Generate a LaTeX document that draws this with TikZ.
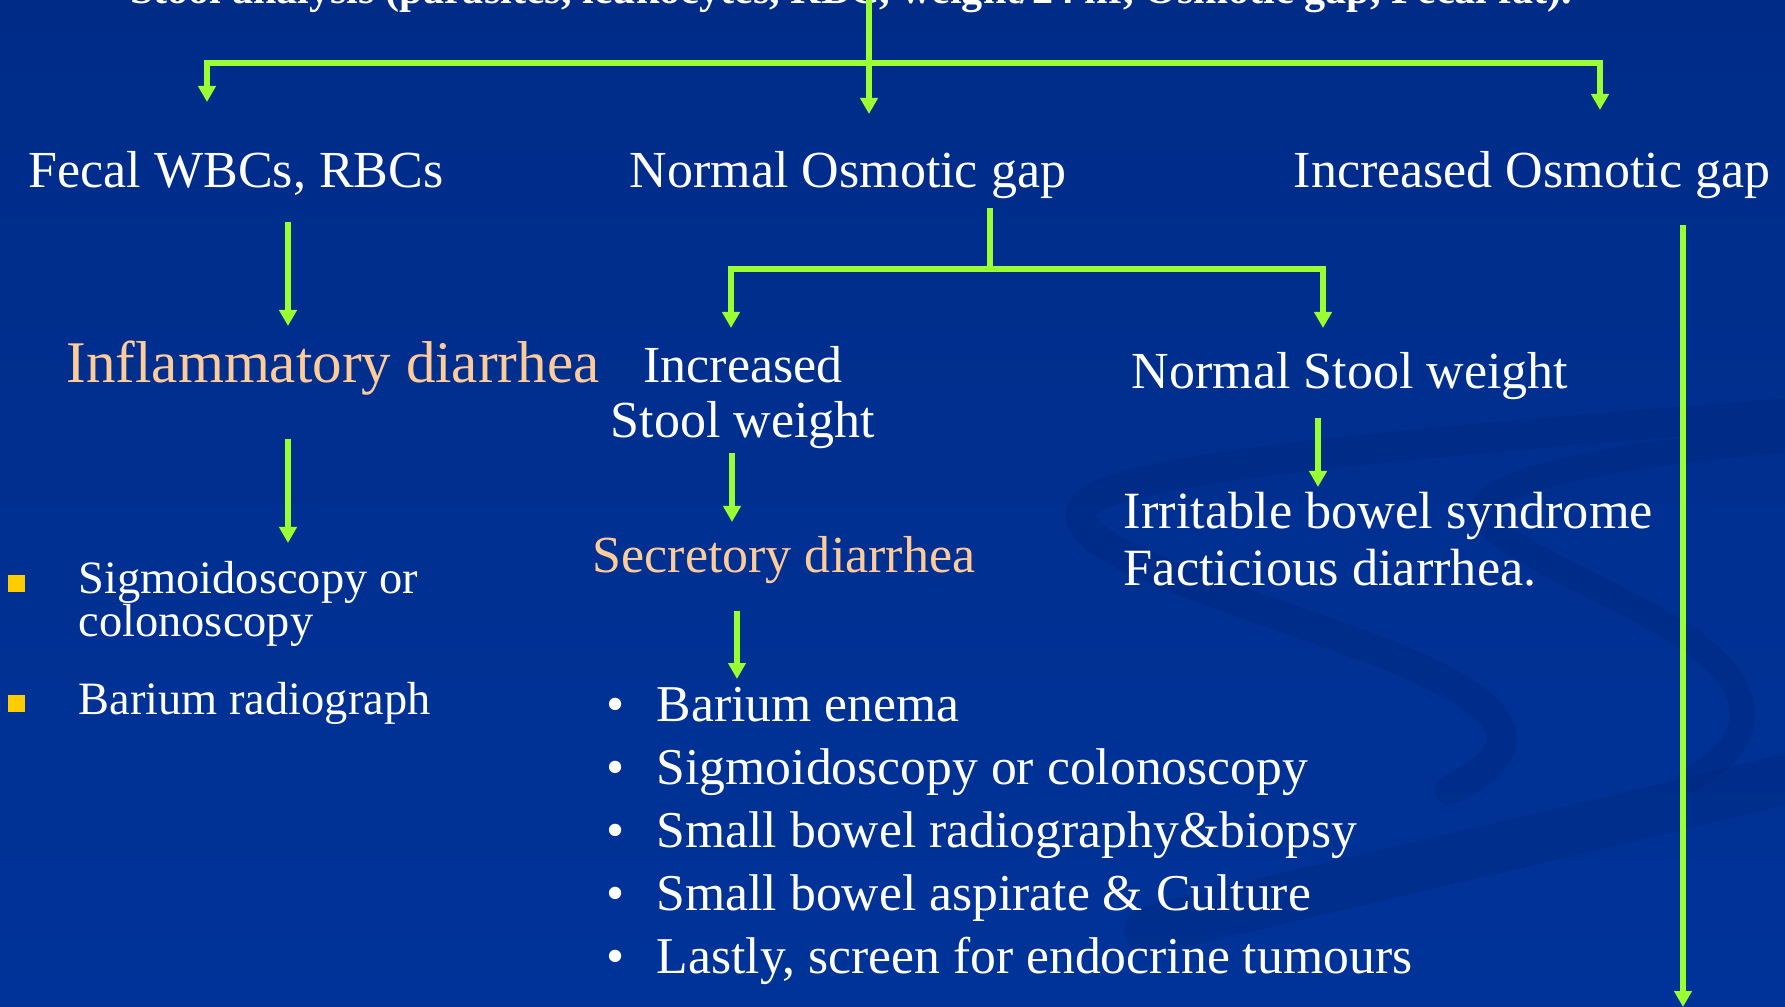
\documentclass[tikz,border=0pt]{standalone}
\usepackage{fontspec}
\setmainfont{Liberation Serif}
\usetikzlibrary{arrows.meta,positioning}

\definecolor{slideblue}{HTML}{003399}
\definecolor{slidetop}{HTML}{002C88}
\definecolor{swirlblue}{HTML}{002677}
\definecolor{flowgreen}{HTML}{99FF33}
\definecolor{peach}{HTML}{FFCC99}
\definecolor{boxyellow}{HTML}{FFCC00}

\tikzset{
  link/.style={flowgreen,line width=0.6mm},
  flow/.style={link,-{Triangle[width=1.7mm,length=1.6mm]}},
  heading/.style={text=white,inner sep=0pt,anchor=base,font=\fontsize{14.8}{16}\selectfont},
  result/.style={text=peach,inner sep=0pt,anchor=base},
  listitem/.style={text=white,inner sep=0pt,anchor=base west,font=\fontsize{14.7}{17}\selectfont},
  swirl/.style={swirlblue,opacity=0.3,line cap=round},
}

\begin{document}
\begin{tikzpicture}[x=0.1mm,y=-0.1mm]
  \useasboundingbox (0,0) rectangle (1785,1007);
  \shade[top color=slidetop,middle color=slideblue,bottom color=slideblue] (0,0) rectangle (1785,1007);
  % swirl in the background
  \draw[swirl,line width=3mm] (1790,413) .. controls (1450,440) and (1120,465) .. (1085,505) .. controls (1050,550) and (1250,600) .. (1400,660) .. controls (1520,710) and (1530,750) .. (1450,790);
  \draw[swirl,line width=2.5mm] (1790,440) .. controls (1650,450) and (1500,475) .. (1485,505) .. controls (1470,540) and (1600,580) .. (1690,640) .. controls (1760,690) and (1760,740) .. (1690,780);
  \draw[swirl,line width=5mm] (1150,930) .. controls (1400,870) and (1600,825) .. (1790,778);

  % texts
  \node[font=\bfseries\fontsize{12}{14}\selectfont,text=white,inner sep=0pt,anchor=base] (stool) at (851,4) {Stool analysis (parasites, leukocytes, RBC, weight/24 hr, Osmotic gap, Fecal fat).};
  \node[heading] (fecal) at (236,188) {Fecal WBCs, RBCs};
  \node[heading] (normgap) at (848,188) {Normal Osmotic gap};
  \node[heading] (incgap) at (1532,188) {Increased Osmotic gap};

  \node[result,font=\fontsize{16.8}{18}\selectfont] (inflam) at (333,383) {Inflammatory diarrhea};
  \node[heading,align=center,font=\fontsize{14.8}{15.9}\selectfont] (incsw) at (743,438) {Increased\\Stool weight};
  \node[heading] (normsw) at (1350,389) {Normal Stool weight};
  \node[result,font=\fontsize{14.8}{16}\selectfont] (secret) at (784,573) {Secretory diarrhea};
  \node[heading,anchor=base west,align=left,font=\fontsize{14.9}{16.5}\selectfont] (ibs) at (1123,586) {Irritable bowel syndrome\\Facticious diarrhea.};

  % inflammatory work-up
  \fill[boxyellow] (8,575) rectangle (25,592);
  \fill[boxyellow] (8,695) rectangle (25,712);
  \node[listitem,align=left,font=\fontsize{13.2}{12.2}\selectfont] (inv1) at (78,636) {Sigmoidoscopy or\\colonoscopy};
  \node[listitem,font=\fontsize{13.2}{14}\selectfont] (inv2) at (78,714) {Barium radiograph};

  % secretory work-up
  \foreach \t [count=\i] in {Barium enema, Sigmoidoscopy or colonoscopy, Small bowel radiography\&biopsy, Small bowel aspirate \& Culture, {Lastly, screen for endocrine tumours}} {
    \node[listitem,anchor=base] (dot\i) at (616,{721+63*(\i-1)}) {\textbullet};
    \node[listitem] (sec\i) at (656,{721+63*(\i-1)}) {\t};
  }

  % connectors
  \coordinate (root) at (869,0);
  \coordinate (split) at (869,63);
  \coordinate (tipL) at (207,102);
  \coordinate (tipM) at (869,114);
  \coordinate (tipR) at (1600,110);
  \draw[flow] (root) -- (tipM);
  \draw[flow] (split) -| (tipL);
  \draw[flow] (split) -| (tipR);

  \coordinate (fecalOut) at (288,222);
  \coordinate (inflIn) at (288,326);
  \coordinate (inflOut) at (288,439);
  \coordinate (invIn) at (288,543);
  \draw[flow] (fecalOut) -- (inflIn);
  \draw[flow] (inflOut) -- (invIn);

  \coordinate (gapOut) at (990,208);
  \coordinate (gapSplit) at (990,269);
  \coordinate (incIn) at (731,328);
  \coordinate (normIn) at (1323,328);
  \draw[link] (gapOut) -- (gapSplit);
  \draw[flow] (gapSplit) -| (incIn);
  \draw[flow] (gapSplit) -| (normIn);

  \coordinate (incOut) at (732,453);
  \coordinate (secIn) at (732,522);
  \coordinate (secOut) at (737,611);
  \coordinate (listIn) at (737,679);
  \draw[flow] (incOut) -- (secIn);
  \draw[flow] (secOut) -- (listIn);

  \coordinate (nswOut) at (1318,418);
  \coordinate (ibsIn) at (1318,487);
  \draw[flow] (nswOut) -- (ibsIn);

  \coordinate (igOut) at (1683,225);
  \coordinate (igEnd) at (1683,1007);
  \draw[flow] (igOut) -- (igEnd);
\end{tikzpicture}
\end{document}
